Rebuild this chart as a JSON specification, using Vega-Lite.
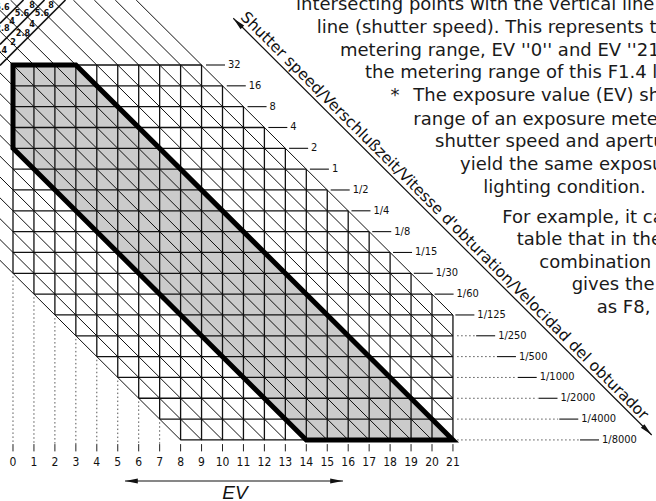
{
  "$schema": "https://vega.github.io/schema/vega-lite/v6.json",
  "width": 656,
  "height": 501,
  "autosize": "none",
  "padding": 0,
  "background": "white",
  "config": {"view": {"stroke": null}},
  "datasets": {
    "shade": [
      {"x": 0, "y": 0, "y2": 4},
      {"x": 3, "y": 0, "y2": 7},
      {"x": 14, "y": 11, "y2": 18},
      {"x": 21, "y": 18, "y2": 18}
    ],
    "outline": [
      {"x": 0, "y": 0, "i": 0},
      {"x": 3, "y": 0, "i": 1},
      {"x": 21, "y": 18, "i": 2},
      {"x": 14, "y": 18, "i": 3},
      {"x": 0, "y": 4, "i": 4},
      {"x": 0, "y": 0, "i": 5},
      {"x": 1, "y": 0, "i": 6}
    ],
    "hlines": [
      {"x": 0, "x2": 9, "y": 0, "y2": 0},
      {"x": 0, "x2": 10, "y": 1, "y2": 1},
      {"x": 0, "x2": 11, "y": 2, "y2": 2},
      {"x": 0, "x2": 12, "y": 3, "y2": 3},
      {"x": 0, "x2": 13, "y": 4, "y2": 4},
      {"x": 0, "x2": 14, "y": 5, "y2": 5},
      {"x": 0, "x2": 15, "y": 6, "y2": 6},
      {"x": 0, "x2": 16, "y": 7, "y2": 7},
      {"x": 0, "x2": 17, "y": 8, "y2": 8},
      {"x": 0, "x2": 18, "y": 9, "y2": 9},
      {"x": 0, "x2": 19, "y": 10, "y2": 10},
      {"x": 1, "x2": 20, "y": 11, "y2": 11},
      {"x": 2, "x2": 21, "y": 12, "y2": 12},
      {"x": 3, "x2": 21, "y": 13, "y2": 13},
      {"x": 4, "x2": 21, "y": 14, "y2": 14},
      {"x": 5, "x2": 21, "y": 15, "y2": 15},
      {"x": 6, "x2": 21, "y": 16, "y2": 16},
      {"x": 7, "x2": 21, "y": 17, "y2": 17},
      {"x": 8, "x2": 21, "y": 18, "y2": 18}
    ],
    "vlines": [
      {"x": 0, "x2": 0, "y": 0, "y2": 10},
      {"x": 1, "x2": 1, "y": 0, "y2": 11},
      {"x": 2, "x2": 2, "y": 0, "y2": 12},
      {"x": 3, "x2": 3, "y": 0, "y2": 13},
      {"x": 4, "x2": 4, "y": 0, "y2": 14},
      {"x": 5, "x2": 5, "y": 0, "y2": 15},
      {"x": 6, "x2": 6, "y": 0, "y2": 16},
      {"x": 7, "x2": 7, "y": 0, "y2": 17},
      {"x": 8, "x2": 8, "y": 0, "y2": 18},
      {"x": 9, "x2": 9, "y": 0, "y2": 18},
      {"x": 10, "x2": 10, "y": 1, "y2": 18},
      {"x": 11, "x2": 11, "y": 2, "y2": 18},
      {"x": 12, "x2": 12, "y": 3, "y2": 18},
      {"x": 13, "x2": 13, "y": 4, "y2": 18},
      {"x": 14, "x2": 14, "y": 5, "y2": 18},
      {"x": 15, "x2": 15, "y": 6, "y2": 18},
      {"x": 16, "x2": 16, "y": 7, "y2": 18},
      {"x": 17, "x2": 17, "y": 8, "y2": 18},
      {"x": 18, "x2": 18, "y": 9, "y2": 18},
      {"x": 19, "x2": 19, "y": 10, "y2": 18},
      {"x": 20, "x2": 20, "y": 11, "y2": 18},
      {"x": 21, "x2": 21, "y": 12, "y2": 18}
    ],
    "diag": [
      {"x": -0.6205, "y": 9.3795, "x2": 8, "y2": 18},
      {"x": -0.6205, "y": 8.3795, "x2": 9, "y2": 18},
      {"x": -0.6205, "y": 7.3795, "x2": 10, "y2": 18},
      {"x": -0.6205, "y": 6.3795, "x2": 11, "y2": 18},
      {"x": -0.6205, "y": 5.3795, "x2": 12, "y2": 18},
      {"x": -0.6205, "y": 4.3795, "x2": 13, "y2": 18},
      {"x": -0.6205, "y": 3.3795, "x2": 14, "y2": 18},
      {"x": -0.6205, "y": 2.3795, "x2": 15, "y2": 18},
      {"x": -0.6205, "y": 1.3795, "x2": 16, "y2": 18},
      {"x": -0.6205, "y": 0.3795, "x2": 17, "y2": 18},
      {"x": -0.6205, "y": -0.6205, "x2": 18, "y2": 18},
      {"x": -0.6205, "y": -1.6205, "x2": 19, "y2": 18},
      {"x": -0.6205, "y": -2.6205, "x2": 20, "y2": 18},
      {"x": -0.1205, "y": -3.1205, "x2": 21, "y2": 18},
      {"x": 0.8795, "y": -3.1205, "x2": 21, "y2": 17},
      {"x": 1.8795, "y": -3.1205, "x2": 21, "y2": 16},
      {"x": 2.8795, "y": -3.1205, "x2": 21, "y2": 15},
      {"x": 3.8795, "y": -3.1205, "x2": 21, "y2": 14},
      {"x": 4.8795, "y": -3.1205, "x2": 21, "y2": 13},
      {"x": 5.8795, "y": -3.1205, "x2": 21, "y2": 12}
    ],
    "tablelines": [
      {"x": -0.6205, "y": 0.024, "x2": 2.506, "y2": -3.1205},
      {"x": -0.6205, "y": -0.984, "x2": 1.5036, "y2": -3.1205},
      {"x": -0.6205, "y": -1.992, "x2": 0.5012, "y2": -3.1205}
    ],
    "tablelabels": [
      {"x": -0.62, "y": -0.72, "t": "1.4"},
      {"x": 0.0, "y": -1.104, "t": "2"},
      {"x": 0.477, "y": -1.536, "t": "2.8"},
      {"x": 0.907, "y": -1.968, "t": "4"},
      {"x": 1.384, "y": -2.497, "t": "5.6"},
      {"x": 1.814, "y": -2.9, "t": "8"},
      {"x": -0.5, "y": -1.776, "t": "2.8"},
      {"x": -0.048, "y": -2.112, "t": "4"},
      {"x": 0.43, "y": -2.496, "t": "5.6"},
      {"x": 0.907, "y": -2.9, "t": "8"},
      {"x": -0.5, "y": -2.784, "t": "5.6"}
    ],
    "leaders": [
      {"x": 9.212, "x2": 10.119, "y": 0, "y2": 0},
      {"x": 10.204, "x2": 11.111, "y": 1, "y2": 1},
      {"x": 11.196, "x2": 12.103, "y": 2, "y2": 2},
      {"x": 12.188, "x2": 13.095, "y": 3, "y2": 3},
      {"x": 13.18, "x2": 14.087, "y": 4, "y2": 4},
      {"x": 14.172, "x2": 15.079, "y": 5, "y2": 5},
      {"x": 15.164, "x2": 16.071, "y": 6, "y2": 6},
      {"x": 16.156, "x2": 17.063, "y": 7, "y2": 7},
      {"x": 17.148, "x2": 18.055, "y": 8, "y2": 8},
      {"x": 18.14, "x2": 19.047, "y": 9, "y2": 9},
      {"x": 19.131, "x2": 20.038, "y": 10, "y2": 10},
      {"x": 20.123, "x2": 21.03, "y": 11, "y2": 11},
      {"x": 21.115, "x2": 22.022, "y": 12, "y2": 12},
      {"x": 22.107, "x2": 23.014, "y": 13, "y2": 13},
      {"x": 23.099, "x2": 24.006, "y": 14, "y2": 14},
      {"x": 24.091, "x2": 24.998, "y": 15, "y2": 15},
      {"x": 25.083, "x2": 25.99, "y": 16, "y2": 16},
      {"x": 26.075, "x2": 26.982, "y": 17, "y2": 17},
      {"x": 27.066, "x2": 27.973, "y": 18, "y2": 18}
    ],
    "dotted": [
      {"x": 21.2, "x2": 22.05, "y": 13, "y2": 13},
      {"x": 21.2, "x2": 23.05, "y": 14, "y2": 14},
      {"x": 21.2, "x2": 24.04, "y": 15, "y2": 15},
      {"x": 21.2, "x2": 25.03, "y": 16, "y2": 16},
      {"x": 21.2, "x2": 26.02, "y": 17, "y2": 17},
      {"x": 21.2, "x2": 27.01, "y": 18, "y2": 18},
      {"x": 0, "x2": 0, "y": 10.15, "y2": 18.2},
      {"x": 1, "x2": 1, "y": 11.15, "y2": 18.2},
      {"x": 2, "x2": 2, "y": 12.15, "y2": 18.2},
      {"x": 3, "x2": 3, "y": 13.15, "y2": 18.2},
      {"x": 4, "x2": 4, "y": 14.15, "y2": 18.2},
      {"x": 5, "x2": 5, "y": 15.15, "y2": 18.2},
      {"x": 6, "x2": 6, "y": 16.15, "y2": 18.2},
      {"x": 7, "x2": 7, "y": 17.15, "y2": 18.2}
    ],
    "shutterlabels": [
      {"x": 10.263, "y": 0, "t": "32"},
      {"x": 11.255, "y": 1, "t": "16"},
      {"x": 12.246, "y": 2, "t": "8"},
      {"x": 13.238, "y": 3, "t": "4"},
      {"x": 14.23, "y": 4, "t": "2"},
      {"x": 15.222, "y": 5, "t": "1"},
      {"x": 16.214, "y": 6, "t": "1/2"},
      {"x": 17.206, "y": 7, "t": "1/4"},
      {"x": 18.198, "y": 8, "t": "1/8"},
      {"x": 19.19, "y": 9, "t": "1/15"},
      {"x": 20.181, "y": 10, "t": "1/30"},
      {"x": 21.173, "y": 11, "t": "1/60"},
      {"x": 22.165, "y": 12, "t": "1/125"},
      {"x": 23.157, "y": 13, "t": "1/250"},
      {"x": 24.149, "y": 14, "t": "1/500"},
      {"x": 25.141, "y": 15, "t": "1/1000"},
      {"x": 26.133, "y": 16, "t": "1/2000"},
      {"x": 27.125, "y": 17, "t": "1/4000"},
      {"x": 28.116, "y": 18, "t": "1/8000"}
    ],
    "evticks": [
      {"x": 0, "x2": 0, "y": 18.2, "y2": 18.55},
      {"x": 1, "x2": 1, "y": 18.2, "y2": 18.55},
      {"x": 2, "x2": 2, "y": 18.2, "y2": 18.55},
      {"x": 3, "x2": 3, "y": 18.2, "y2": 18.55},
      {"x": 4, "x2": 4, "y": 18.2, "y2": 18.55},
      {"x": 5, "x2": 5, "y": 18.2, "y2": 18.55},
      {"x": 6, "x2": 6, "y": 18.2, "y2": 18.55},
      {"x": 7, "x2": 7, "y": 18.2, "y2": 18.55},
      {"x": 8, "x2": 8, "y": 18.2, "y2": 18.55},
      {"x": 9, "x2": 9, "y": 18.2, "y2": 18.55},
      {"x": 10, "x2": 10, "y": 18.2, "y2": 18.55},
      {"x": 11, "x2": 11, "y": 18.2, "y2": 18.55},
      {"x": 12, "x2": 12, "y": 18.2, "y2": 18.55},
      {"x": 13, "x2": 13, "y": 18.2, "y2": 18.55},
      {"x": 14, "x2": 14, "y": 18.2, "y2": 18.55},
      {"x": 15, "x2": 15, "y": 18.2, "y2": 18.55},
      {"x": 16, "x2": 16, "y": 18.2, "y2": 18.55},
      {"x": 17, "x2": 17, "y": 18.2, "y2": 18.55},
      {"x": 18, "x2": 18, "y": 18.2, "y2": 18.55},
      {"x": 19, "x2": 19, "y": 18.2, "y2": 18.55},
      {"x": 20, "x2": 20, "y": 18.2, "y2": 18.55},
      {"x": 21, "x2": 21, "y": 18.2, "y2": 18.55}
    ],
    "evlabels": [
      {"x": 0, "y": 19.06, "t": "0"}, {"x": 1, "y": 19.06, "t": "1"}, {"x": 2, "y": 19.06, "t": "2"},
      {"x": 3, "y": 19.06, "t": "3"}, {"x": 4, "y": 19.06, "t": "4"}, {"x": 5, "y": 19.06, "t": "5"},
      {"x": 6, "y": 19.06, "t": "6"}, {"x": 7, "y": 19.06, "t": "7"}, {"x": 8, "y": 19.06, "t": "8"},
      {"x": 9, "y": 19.06, "t": "9"}, {"x": 10, "y": 19.06, "t": "10"}, {"x": 11, "y": 19.06, "t": "11"},
      {"x": 12, "y": 19.06, "t": "12"}, {"x": 13, "y": 19.06, "t": "13"}, {"x": 14, "y": 19.06, "t": "14"},
      {"x": 15, "y": 19.06, "t": "15"}, {"x": 16, "y": 19.06, "t": "16"}, {"x": 17, "y": 19.06, "t": "17"},
      {"x": 18, "y": 19.06, "t": "18"}, {"x": 19, "y": 19.06, "t": "19"}, {"x": 20, "y": 19.06, "t": "20"},
      {"x": 21, "y": 19.06, "t": "21"}
    ],
    "arrows": [
      {"x": 5.346, "y": 19.971, "x2": 15.752, "y2": 19.971},
      {"x": 10.515, "y": -2.242, "x2": 30.487, "y2": 17.763}
    ],
    "headsleft": [
      {"x": 5.656, "y": 19.971, "a": 0},
      {"x": 10.735, "y": -2.021, "a": 45}
    ],
    "headsright": [
      {"x": 15.442, "y": 19.971, "a": 0},
      {"x": 30.267, "y": 17.542, "a": 45}
    ],
    "evtitle": [{"x": 10.597, "y": 20.85, "t": "EV"}],
    "diagtext": [{"x": 10.82, "y": -2.26, "t": "Shutter speed/Verschlußzeit/Vitesse d'obturation/Velocidad del obturador"}],
    "para": [
      {"x": 13.508, "y": -2.64, "t": "intersecting points with the vertical line"},
      {"x": 14.496, "y": -1.522, "t": "line (shutter speed). This represents the"},
      {"x": 15.609, "y": -0.456, "t": "metering range, EV ''0'' and EV ''21''"},
      {"x": 16.802, "y": 0.648, "t": "the metering range of this F1.4 lens"},
      {"x": 18.019, "y": 1.752, "t": "*"},
      {"x": 19.108, "y": 1.752, "t": "The exposure value (EV) shows"},
      {"x": 19.108, "y": 2.866, "t": "range of an exposure meter"},
      {"x": 20.143, "y": 3.937, "t": "shutter speed and aperture"},
      {"x": 21.337, "y": 5.041, "t": "yield the same exposure"},
      {"x": 22.449, "y": 6.159, "t": "lighting condition."},
      {"x": 23.356, "y": 7.571, "t": "For example, it can"},
      {"x": 24.043, "y": 8.651, "t": "table that in the"},
      {"x": 25.122, "y": 9.731, "t": "combination"},
      {"x": 26.668, "y": 10.811, "t": "gives the"},
      {"x": 27.862, "y": 11.891, "t": "as F8,"}
    ]
  },
  "encoding": {
    "x": {"field": "x", "type": "quantitative", "scale": {"domain": [-0.6205, 30.692], "nice": false, "zero": false}, "axis": null},
    "y": {"field": "y", "type": "quantitative", "scale": {"domain": [-3.1205, 20.932], "nice": false, "zero": false, "reverse": true}, "axis": null}
  },
  "layer": [
    {
      "data": {"name": "shade"},
      "mark": {"type": "area", "color": "#cbcbcb", "interpolate": "linear"},
      "encoding": {"y2": {"field": "y2"}}
    },
    {
      "data": {"name": "hlines"},
      "mark": {"type": "rule", "color": "#111", "strokeWidth": 1.3},
      "encoding": {"x2": {"field": "x2"}, "y2": {"field": "y2"}}
    },
    {
      "data": {"name": "vlines"},
      "mark": {"type": "rule", "color": "#111", "strokeWidth": 1.3},
      "encoding": {"x2": {"field": "x2"}, "y2": {"field": "y2"}}
    },
    {
      "data": {"name": "diag"},
      "mark": {"type": "rule", "color": "#111", "strokeWidth": 1.0},
      "encoding": {"x2": {"field": "x2"}, "y2": {"field": "y2"}}
    },
    {
      "data": {"name": "tablelines"},
      "mark": {"type": "rule", "color": "#111", "strokeWidth": 1.6},
      "encoding": {"x2": {"field": "x2"}, "y2": {"field": "y2"}}
    },
    {
      "data": {"name": "tablelabels"},
      "mark": {"type": "text", "font": "DejaVu Sans Condensed, DejaVu Sans", "fontSize": 9, "fontWeight": "bold", "color": "#111", "align": "center", "baseline": "middle"},
      "encoding": {"text": {"field": "t"}}
    },
    {
      "data": {"name": "outline"},
      "mark": {"type": "line", "color": "#000", "strokeWidth": 5, "strokeJoin": "miter", "strokeCap": "square"},
      "encoding": {"order": {"field": "i", "type": "quantitative"}}
    },
    {
      "data": {"name": "leaders"},
      "mark": {"type": "rule", "color": "#111", "strokeWidth": 1.1},
      "encoding": {"x2": {"field": "x2"}, "y2": {"field": "y2"}}
    },
    {
      "data": {"name": "dotted"},
      "mark": {"type": "rule", "color": "#555", "strokeWidth": 1, "strokeDash": [1.5, 2.5]},
      "encoding": {"x2": {"field": "x2"}, "y2": {"field": "y2"}}
    },
    {
      "data": {"name": "evticks"},
      "mark": {"type": "rule", "color": "#222", "strokeWidth": 1},
      "encoding": {"x2": {"field": "x2"}, "y2": {"field": "y2"}}
    },
    {
      "data": {"name": "shutterlabels"},
      "mark": {"type": "text", "font": "Liberation Sans Narrow, DejaVu Sans Condensed, Liberation Sans", "fontSize": 11, "color": "#111", "align": "left", "baseline": "middle"},
      "encoding": {"text": {"field": "t"}}
    },
    {
      "data": {"name": "evlabels"},
      "mark": {"type": "text", "font": "Liberation Sans Narrow, DejaVu Sans Condensed, Liberation Sans", "fontSize": 12, "color": "#111", "align": "center", "baseline": "middle"},
      "encoding": {"text": {"field": "t"}}
    },
    {
      "data": {"name": "arrows"},
      "mark": {"type": "rule", "color": "#111", "strokeWidth": 1.2},
      "encoding": {"x2": {"field": "x2"}, "y2": {"field": "y2"}}
    },
    {
      "data": {"name": "headsleft"},
      "mark": {"type": "point", "shape": "M -1 0 L 1 -0.4 L 1 0.4 Z", "filled": true, "color": "#111", "opacity": 1, "size": 160},
      "encoding": {"angle": {"field": "a", "type": "quantitative", "scale": null}}
    },
    {
      "data": {"name": "headsright"},
      "mark": {"type": "point", "shape": "M 1 0 L -1 -0.4 L -1 0.4 Z", "filled": true, "color": "#111", "opacity": 1, "size": 160},
      "encoding": {"angle": {"field": "a", "type": "quantitative", "scale": null}}
    },
    {
      "data": {"name": "evtitle"},
      "mark": {"type": "text", "font": "Liberation Sans", "fontSize": 19, "fontStyle": "italic", "color": "#111", "align": "center", "baseline": "alphabetic"},
      "encoding": {"text": {"field": "t"}}
    },
    {
      "data": {"name": "diagtext"},
      "mark": {"type": "text", "font": "DejaVu Sans", "fontSize": 15.5, "angle": 45, "color": "#111", "align": "left", "baseline": "alphabetic"},
      "encoding": {"text": {"field": "t"}}
    },
    {
      "data": {"name": "para"},
      "mark": {"type": "text", "font": "DejaVu Sans", "fontSize": 18, "color": "#1a1a1a", "align": "left", "baseline": "alphabetic"},
      "encoding": {"text": {"field": "t"}}
    }
  ]
}
